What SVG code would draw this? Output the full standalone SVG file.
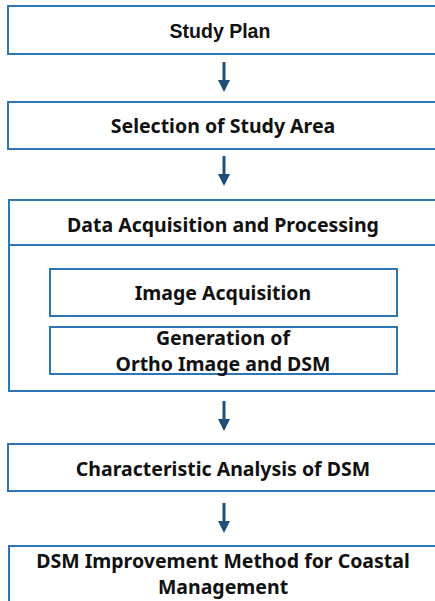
<svg xmlns="http://www.w3.org/2000/svg" width="435" height="601" viewBox="0 0 435 601">
<style>
.box{fill:#fff;stroke:#2E75B6;stroke-width:2}
.t{font-family:"Noto Sans","Liberation Sans",sans-serif;font-weight:bold;font-size:19.5px;fill:#111;text-anchor:middle}
.a{font-family:"Liberation Sans",Arial,sans-serif;font-weight:bold;font-size:19.5px;fill:#111;text-anchor:middle}
.c{stroke:#1F4E79;stroke-width:3;fill:none}
</style>
<defs>
<marker id="ah" markerWidth="4" markerHeight="4" refX="3" refY="2" orient="auto" markerUnits="strokeWidth">
<path d="M0,0 L4,2 L0,4 Z" fill="#1F4E79"/>
</marker>
</defs>
<rect width="435" height="601" fill="#fff"/>
<g id="study-plan"><rect class="box" x="8" y="6" width="440" height="48"/><text class="a" x="220" y="38">Study Plan</text></g>
<g id="selection"><rect class="box" x="8" y="102" width="440" height="47"/><text class="t" x="223" y="133">Selection of Study Area</text></g>
<g id="data-acq"><rect class="box" x="9" y="200" width="440" height="191"/><line x1="9" y1="245" x2="449" y2="245" stroke="#2E75B6" stroke-width="2"/><text class="t" x="223" y="232">Data Acquisition and Processing</text></g>
<g id="image-acq"><rect class="box" x="50" y="269" width="347" height="47"/><text class="t" x="223" y="300">Image Acquisition</text></g>
<g id="generation"><rect class="box" x="50" y="327" width="347" height="47"/><text class="t" x="223" y="345">Generation of</text><text class="t" x="223" y="371">Ortho Image and DSM</text></g>
<g id="characteristic"><rect class="box" x="8" y="444" width="440" height="47"/><text class="t" x="223" y="476">Characteristic Analysis of DSM</text></g>
<g id="improvement"><rect class="box" x="9" y="546" width="440" height="70"/><text class="t" x="223" y="568">DSM Improvement Method for Coastal</text><text class="t" x="223" y="594">Management</text></g>
<g id="connectors">
<line class="c" x1="224" y1="62" x2="224" y2="89" marker-end="url(#ah)"/>
<line class="c" x1="224" y1="156" x2="224" y2="183" marker-end="url(#ah)"/>
<line class="c" x1="224" y1="401" x2="224" y2="428" marker-end="url(#ah)"/>
<line class="c" x1="224" y1="503" x2="224" y2="530" marker-end="url(#ah)"/>
</g>
</svg>
